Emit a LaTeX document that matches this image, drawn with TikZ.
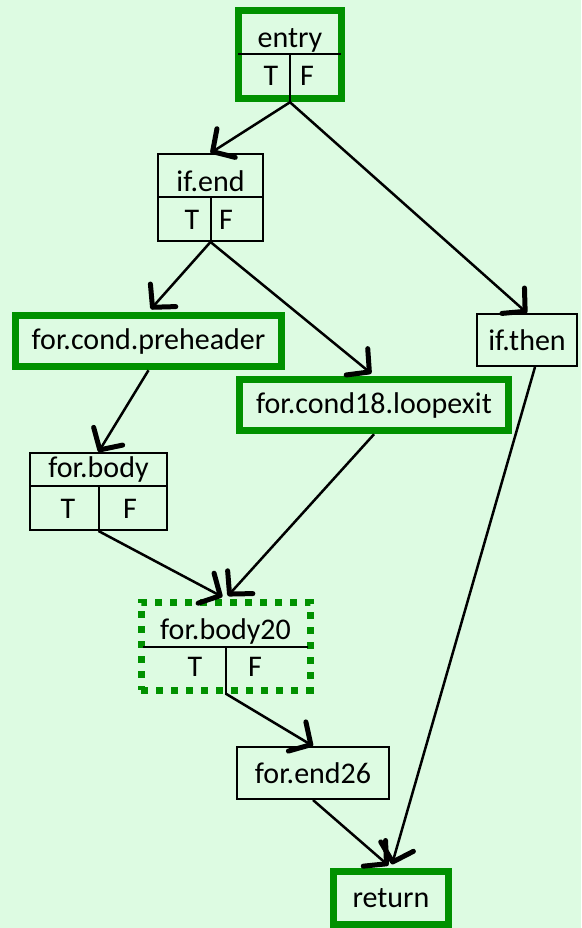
\documentclass[tikz,border=0pt]{standalone}
\usepackage{fontspec}
\setmainfont{Carlito}
\usetikzlibrary{arrows.meta}
\definecolor{bggreen}{RGB}{221,251,226}
\definecolor{bbgreen}{RGB}{0,145,0}

\begin{document}
\begin{tikzpicture}[x=1pt, y=-1pt,
    blk/.style 2 args={rectangle, draw, line width=2pt, minimum width=#1, minimum height=#2, inner sep=0pt, font=\fontsize{30}{34}\selectfont},
    hot/.style={draw=bbgreen, line width=7.5pt},
    cold/.style={draw=bbgreen, line width=7pt, dash pattern=on 7pt off 8pt},
    lbl/.style={inner sep=0pt, font=\fontsize{30}{34}\selectfont},
    sep/.style={line width=2pt},
    arr/.style={-{Straight Barb[length=16pt, width=34pt, line width=5pt, round]}, line width=2.5pt},
    thk/.style={shorten >=3.5pt}
]

% background
\fill[bggreen] (0,0) rectangle (581,928);
\useasboundingbox (0,0) rectangle (581,928);

% entry
\node[blk={103}{88}, hot] (entry) at (290,54.5) {};
\node[lbl] (entryname) at (290,40) {entry};
\node[lbl] (entryT) at (271,76) {T};
\node[lbl] (entryF) at (307,76) {F};
\draw[sep] (238,54) -- (341,54);
\draw[sep] (entry.south |- 0,54) -- (entry.south);

% if.end
\node[blk={105}{87}] (ifend) at (210.5,197.5) {};
\node[lbl] (ifendname) at (210.5,181) {if.end};
\node[lbl] (ifendT) at (192,220) {T};
\node[lbl] (ifendF) at (226,220) {F};
\draw[sep] (158,197) -- (263,197);
\draw[sep] (ifend.south |- 0,197) -- (ifend.south);

% preheader, if.then, loopexit
\node[blk={266}{51}, hot] (prehdr) at (148.5,341) {for.cond.preheader};
\node[blk={100}{52}] (ifthen) at (527,340) {if.then};
\node[blk={269}{51}, hot] (loopexit) at (374,405) {for.cond18.loopexit};

% for.body
\node[blk={137}{77}] (body) at (98.5,491.5) {};
\node[lbl] (bodyname) at (98.5,469) {for.body};
\node[lbl] (bodyT) at (68,509) {T};
\node[lbl] (bodyF) at (130,509) {F};
\draw[sep] (30,486) -- (167,486);
\draw[sep] (body.south |- 0,486) -- (body.south);

% for.body20
\node[blk={169}{88}, cold] (body20) at (225.5,646) {};
\node[lbl] (body20name) at (225.5,631) {for.body20};
\node[lbl] (body20T) at (195,667) {T};
\node[lbl] (body20F) at (255,667) {F};
\draw[sep] (143,647) -- (308,647);
\draw[sep] (body20.south |- 0,647) -- (body20.south);

% for.end26, return
\node[blk={152}{52}] (forend) at (313,773) {for.end26};
\node[blk={115}{53}, hot] (ret) at (391,898) {return};

% edges
\draw[arr] (entry.south) -- (ifend.north);
\draw[arr] (entry.south) -- (ifthen.north);
\draw[arr, thk] (ifend.south) -- (prehdr.north);
\draw[arr, thk] (ifend.south) -- (loopexit.north);
\draw[arr] (prehdr.south) -- (body.north);
\draw[arr, thk] (body.south) -- (body20.north);
\draw[arr, thk] (loopexit.south) -- (body20.north);
\draw[arr, thk] ([xshift=8pt]ifthen.south) -- (ret.north);
\draw[arr] (body20.south) -- (forend.north);
\draw[arr, thk] (forend.south) -- (ret.north);

\end{tikzpicture}
\end{document}
